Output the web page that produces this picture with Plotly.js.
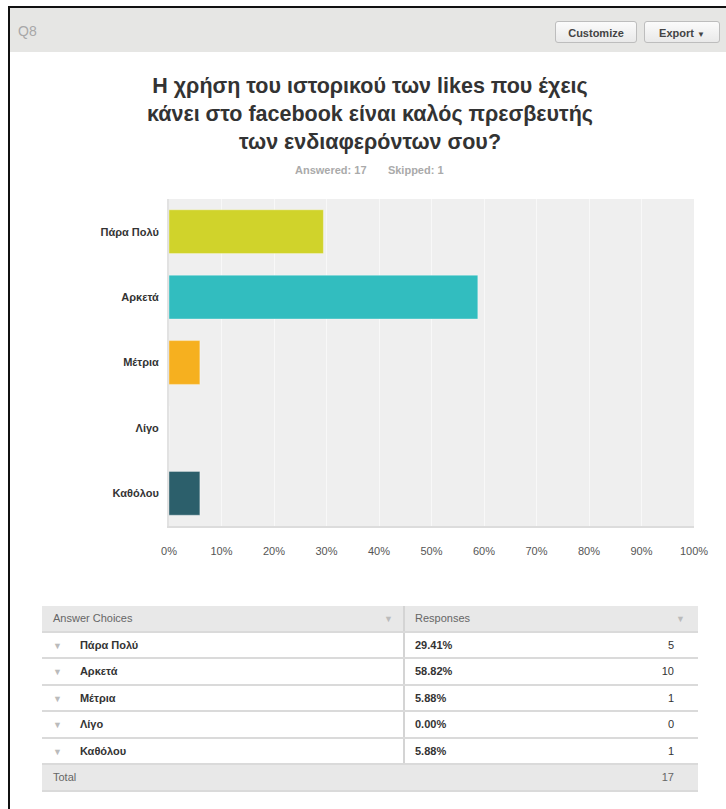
<!DOCTYPE html>
<html>
<head>
<meta charset="utf-8">
<script src="https://cdn.plot.ly/plotly-3.0.1.min.js"></script>
<style>
  html, body { margin:0; padding:0; background:#fff; width:726px; height:809px; overflow:hidden; font-family:"Liberation Sans", Arial, sans-serif; }
  #frameTop { position:absolute; left:8px; top:6px; width:718px; height:2px; background:#111; z-index:20; }
  #frameLeft { position:absolute; left:8px; top:6px; width:2px; height:803px; background:#111; z-index:20; }
  #header { position:absolute; left:10px; top:8px; width:716px; height:44px; background:#e6e6e4; z-index:10; }
  #q { position:absolute; left:8px; top:15px; font-size:14px; color:#a8a8a8; }
  .btn { position:absolute; top:13px; height:22px; border:1px solid #bdbdbd; border-radius:3px;
         background:linear-gradient(#fbfbfb,#e9e9e9); font-size:11px; font-weight:bold; color:#444;
         line-height:22px; text-align:center; box-sizing:border-box; }
  #chart { position:absolute; left:0; top:0; width:726px; height:600px; }
  #tbl { position:absolute; left:42px; top:606px; width:656px; border-collapse:collapse; font-size:11px; color:#333; z-index:5; }
  #tbl td { height:24.5px; padding:0; border-bottom:2px solid #dadada; vertical-align:middle; }
  #tbl tr.head td, #tbl tr.total td { background:#e8e8e8; color:#666; }
  .arrow { color:#bbb; font-size:9px; }
</style>
</head>
<body>
<div id="chart"></div>
<div id="frameTop"></div>
<div id="frameLeft"></div>
<div id="header">
  <div id="q">Q8</div>
  <div class="btn" style="left:545px; width:82px;">Customize</div>
  <div class="btn" style="left:634px; width:76px;">Export <span style="font-size:8px;">&#9660;</span></div>
</div>
<table id="tbl"></table>
<script>
// ---- data ----
const categories = ["Πάρα Πολύ", "Αρκετά", "Μέτρια", "Λίγο", "Καθόλου"];
const percents = [29.41, 58.82, 5.88, 0.00, 5.88];
const counts = [5, 10, 1, 0, 1];
const barColors = ["#d0d32b", "#32bdbf", "#f6b01f", "#9b9b9b", "#2c5f6b"];
const xTickVals = [0, 10, 20, 30, 40, 50, 60, 70, 80, 90, 100];
const answered = 17;
const skipped = 1;
const titleText = "Η χρήση του ιστορικού των likes που έχεις<br>κάνει στο facebook είναι καλός πρεσβευτής<br>των ενδιαφερόντων σου?";

const FONT = "Liberation Sans, Arial, sans-serif";

const trace = {
  type: "bar",
  orientation: "h",
  y: categories,
  x: percents,
  marker: { color: barColors, line: { color: "rgba(255,255,255,0.35)", width: 1 } },
  hoverinfo: "x+y"
};

const layout = {
  width: 726, height: 600,
  margin: { l: 169, r: 32, t: 199, b: 74 },
  paper_bgcolor: "#ffffff",
  plot_bgcolor: "#efefef",
  showlegend: false,
  bargap: 0.33,
  font: { family: FONT },
  title: {
    text: titleText,
    font: { family: FONT, size: 21.5, color: "#333333", weight: "bold" },
    x: 370 / 726, xanchor: "center", xref: "container",
    y: 1 - 93 / 600, yanchor: "top", yref: "container"
  },
  xaxis: {
    range: [0, 100],
    tickvals: xTickVals,
    ticktext: xTickVals.map(v => v + "%"),
    showgrid: true, gridcolor: "#f8f8f8", gridwidth: 1,
    zeroline: false,
    showline: true, linecolor: "#dcdcdc", linewidth: 2,
    ticks: "", ticklabelstandoff: 14,
    tickfont: { family: FONT, size: 11, color: "#555555" },
    fixedrange: true
  },
  yaxis: {
    type: "category",
    categoryorder: "array", categoryarray: categories,
    autorange: "reversed",
    showgrid: false, zeroline: false,
    showline: true, linecolor: "#e2e2e2", linewidth: 2,
    ticks: "", ticklabelstandoff: 6,
    tickfont: { family: FONT, size: 11, color: "#333333", weight: "bold" },
    fixedrange: true
  },
  annotations: [{
    text: "Answered: " + answered + "&nbsp;&nbsp;&nbsp;&nbsp;&nbsp;&nbsp;&nbsp;Skipped: " + skipped,
    xref: "paper", yref: "paper",
    x: (369 - 169) / 525, y: (526 - 170) / 327,
    xanchor: "center", yanchor: "middle",
    showarrow: false,
    font: { family: FONT, size: 11, color: "#aaaaaa", weight: "bold" }
  }]
};

Plotly.newPlot("chart", [trace], layout, { displayModeBar: false, staticPlot: true });

// ---- table built from the same arrays ----
const tbl = document.getElementById("tbl");
let html = '<tr class="head">' +
  '<td style="width:350px; padding-left:11px; border-right:2px solid #d4d4d4; position:relative;">Answer Choices<span class="arrow" style="position:absolute; right:10px; top:8px;">&#9660;</span></td>' +
  '<td style="width:200px; padding-left:10px;">Responses</td>' +
  '<td style="text-align:right; padding-right:13px;"><span class="arrow">&#9660;</span></td></tr>';
const total = counts.reduce((a, b) => a + b, 0);
categories.forEach((c, i) => {
  html += '<tr>' +
    '<td style="padding-left:11px; border-right:2px solid #d4d4d4;"><span class="arrow">&#9660;</span><span style="font-weight:bold; margin-left:18px;">' + c + '</span></td>' +
    '<td style="padding-left:10px; font-weight:bold;">' + percents[i].toFixed(2) + '%</td>' +
    '<td style="text-align:right; padding-right:24px;">' + counts[i] + '</td></tr>';
});
html += '<tr class="total"><td style="padding-left:11px;">Total</td><td></td>' +
  '<td style="text-align:right; padding-right:24px;">' + total + '</td></tr>';
tbl.innerHTML = html;
</script>
</body>
</html>
